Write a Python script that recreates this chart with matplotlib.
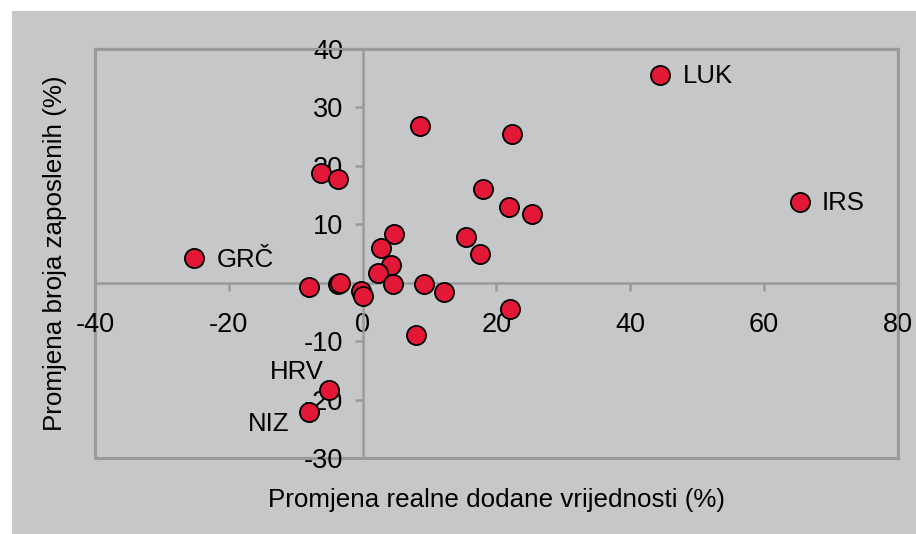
import matplotlib
matplotlib.use("Agg")
import matplotlib.pyplot as plt
from matplotlib.patches import Rectangle

plt.rcParams['font.family'] = ['Liberation Sans', 'DejaVu Sans']
plt.rcParams['axes.unicode_minus'] = False

# Data: change in real value added (%) vs change in employment (%)
x_vals = [44.5, 65.3, -25.2, -5.1, -8.0,
          8.6, 22.3, -6.2, -3.7, 18.0, 21.8, 25.3,
          4.7, 2.7, 15.5, 17.5, 4.2, 2.3,
          -3.7, -3.4, -8.0, 4.5, 9.1, 12.2, -0.25, 0.0,
          8.0, 22.0]
y_vals = [35.6, 13.8, 4.2, -18.3, -22.1,
          26.9, 25.5, 18.7, 17.8, 16.1, 13.0, 11.8,
          8.3, 6.0, 7.8, 5.0, 3.0, 1.7,
          -0.3, 0.0, -0.8, -0.2, -0.2, -1.6, -1.5, -2.2,
          -8.9, -4.5]
labels = ['LUK', 'IRS', 'GRČ', 'HRV', 'NIZ']

x_ticks = [-40, -20, 0, 20, 40, 60, 80]
y_ticks = [-30, -20, -10, 10, 20, 30, 40]

W, H = 916, 534
fig = plt.figure(figsize=(W / 100, H / 100), dpi=100)
fig.patch.set_facecolor('white')
bg = '#c6c7c9'
fig.add_artist(Rectangle((12 / W, 0), 1, (H - 11) / H, transform=fig.transFigure,
                         facecolor=bg, edgecolor='none', zorder=-10))

ax = fig.add_axes([95 / W, (H - 458) / H, (898 - 95) / W, (458 - 49) / H])
ax.set_zorder(1)
ax.set_facecolor(bg)
ax.set_xlim(-40, 80)
ax.set_ylim(-30, 40)

gc = '#9a9a9a'
for s in ['top', 'right']:
    ax.spines[s].set_color(gc)
    ax.spines[s].set_linewidth(1.6)
ax.spines['left'].set_position(('data', 0))
ax.spines['bottom'].set_position(('data', 0))
for s in ['left', 'bottom']:
    ax.spines[s].set_color(gc)
    ax.spines[s].set_linewidth(1.8)
ax.add_patch(Rectangle((0, 0), 1, 1, transform=ax.transAxes, fill=False,
                       edgecolor=gc, linewidth=2.2, zorder=1, clip_on=False))

ax.set_xticks(x_ticks)
ax.set_yticks(y_ticks)
ax.tick_params(axis='x', direction='out', length=6, width=1.8, color=gc,
               labelsize=19.5, pad=15)
ax.tick_params(axis='y', direction='out', length=6, width=1.8, color=gc,
               labelsize=19.5, pad=8)

ax.scatter(x_vals, y_vals, s=190, c='#e31837', edgecolors='black',
           linewidths=1.3, zorder=5, clip_on=False)

offsets = {
    'LUK': (16, -1, 'left'),
    'IRS': (16, -1, 'left'),
    'GRČ': (16, -1, 'left'),
    'HRV': (-3.5, 13, 'right'),
    'NIZ': (-14, -9, 'right'),
}
for i, lab in enumerate(labels):
    dx, dy, ha = offsets[lab]
    ax.annotate(lab, (x_vals[i], y_vals[i]), xytext=(dx, dy),
                textcoords='offset points', ha=ha, va='center',
                fontsize=18.5, zorder=6)

ax.set_xlabel('Promjena realne dodane vrijednosti (%)', fontsize=18.7)
ax.set_ylabel('Promjena broja zaposlenih (%)', fontsize=18.7)
ax.xaxis.set_label_coords(0.5, (458 - 500) / (458 - 49))
ax.yaxis.set_label_coords((55 - 95) / (898 - 95), 0.5)
ax.xaxis.label.set_va('center')
ax.yaxis.label.set_va('center')

fig.savefig('out.png', dpi=100, facecolor=fig.get_facecolor())
